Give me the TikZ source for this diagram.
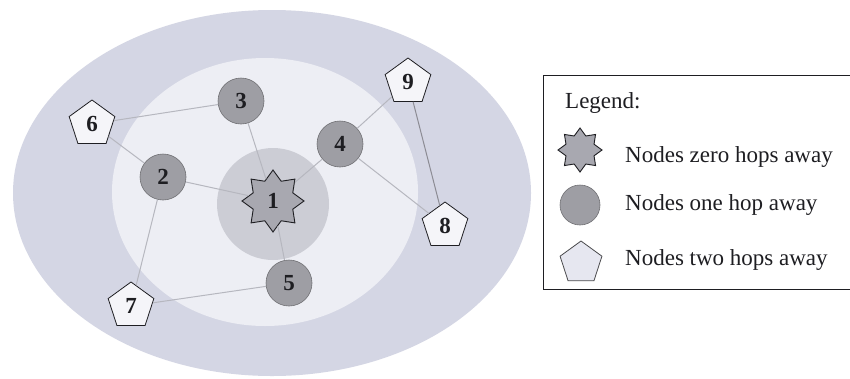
\documentclass[tikz,border=0pt]{standalone}
\usepackage{fontspec}
\setmainfont{Liberation Serif}
\usetikzlibrary{shapes.geometric}
\definecolor{outerc}{HTML}{D4D6E4}
\definecolor{middlec}{HTML}{EDEEF4}
\definecolor{innerc}{HTML}{CCCDD5}
\definecolor{onehopc}{HTML}{9E9EA4}
\definecolor{starc}{HTML}{A8A8B0}
\definecolor{twohopc}{HTML}{F5F5F9}
\definecolor{legpentc}{HTML}{E6E7F0}
\definecolor{edgec}{HTML}{B6B7BF}
\definecolor{darkedgec}{HTML}{8C8C94}
\definecolor{inkc}{HTML}{1E1E22}
\tikzset{
  numfont/.style={font=\fontsize{23}{23}\selectfont\bfseries, text=inkc},
  hopzero/.style={star, star points=8, star point ratio=1.45, minimum size=62pt,
    inner sep=0pt, fill=starc, draw=inkc, line width=0.9pt, numfont},
  hopone/.style={circle, minimum size=46pt, inner sep=0pt, fill=onehopc,
    draw=onehopc!70!black, line width=0.6pt, numfont},
  hoptwo/.style={regular polygon, regular polygon sides=5, minimum size=48pt,
    inner sep=0pt, fill=twohopc, draw=inkc, line width=0.8pt, numfont},
  linkline/.style={draw=edgec, line width=1pt},
  legtext/.style={anchor=west, inner sep=0pt, font=\fontsize{23}{23}\selectfont, text=inkc}
}
\begin{document}
\begin{tikzpicture}[x=1pt,y=-1pt]
\useasboundingbox (0,0) rectangle (850,378);
\fill[white] (0,0) rectangle (850,378);
% zones
\fill[outerc] (272,193) ellipse [x radius=259, y radius=183];
\fill[middlec] (265,192) ellipse [x radius=153, y radius=134];
\fill[innerc] (273,204) circle [radius=56];
% nodes
\node[hopzero] (n1) at (273,201) {1};
\node[hopone] (n2) at (163,177) {2};
\node[hopone] (n3) at (241,101) {3};
\node[hopone] (n4) at (340,144) {4};
\node[hopone] (n5) at (289,283) {5};
\node[hoptwo] (n6) at (92,124) {6};
\node[hoptwo] (n7) at (131,306) {7};
\node[hoptwo] (n8) at (445,226) {8};
\node[hoptwo] (n9) at (408,82) {9};
% links
\path[linkline] (n6) -- (n3);
\path[linkline] (n6) -- (n2);
\path[linkline] (n2) -- (n1);
\path[linkline] (n3) -- (n1);
\path[linkline] (n4) -- (n1);
\path[linkline] (n5) -- (n1);
\path[linkline] (n4) -- (n9);
\path[linkline] (n4) -- (n8);
\path[linkline] (n2) -- (n7);
\path[linkline] (n7) -- (n5);
\path[draw=darkedgec, line width=1pt] (n9) -- (n8);
% legend
\draw[draw=inkc, line width=1pt] (852,75) -- (543,75) -- (543,289) -- (852,289);
\node[legtext] (legtitle) at (565,103) {Legend:};
\node[hopzero, minimum size=44pt] (lstar) at (580,150) {};
\node[legtext] (lzero) at (625,157) {Nodes zero hops away};
\node[hopone, minimum size=40pt] (lcirc) at (580,205) {};
\node[legtext] (lone) at (625,205) {Nodes one hop away};
\node[hoptwo, minimum size=44pt, fill=legpentc, draw=inkc!80] (lpent) at (581,263) {};
\node[legtext] (ltwo) at (625,260) {Nodes two hops away};
\end{tikzpicture}
\end{document}
